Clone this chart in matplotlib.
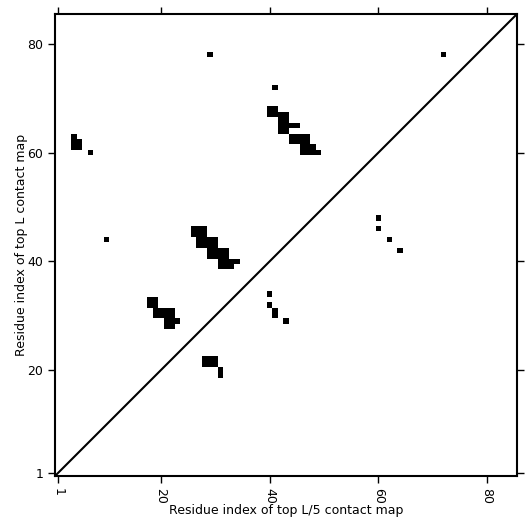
import numpy as np
import matplotlib
matplotlib.use("Agg")
import matplotlib.pyplot as plt

L = 85
tick_values = [1, 20, 40, 60, 80]

# Top L contacts (upper triangle): (column index, row index)
top_L_contacts = [
    (29, 78), (72, 78), (41, 72),
    (4, 63), (4, 62), (5, 62), (4, 61), (5, 61),
    (7, 60), (10, 44),
    # cluster near 40-49 / 60-68
    (40, 67), (41, 67), (40, 68), (41, 68),
    (42, 64), (43, 64), (42, 65), (43, 65), (42, 66), (43, 66), (42, 67), (43, 67),
    (44, 65), (45, 65),
    (44, 62), (45, 62), (46, 62), (47, 62), (44, 63), (45, 63), (46, 63), (47, 63),
    (46, 61), (47, 61), (48, 61),
    (46, 60), (47, 60), (48, 60), (49, 60),
    # cluster near 26-34 / 39-46
    (26, 45), (27, 45), (28, 45), (26, 46), (27, 46), (28, 46),
    (27, 43), (28, 43), (29, 43), (30, 43), (27, 44), (28, 44), (29, 44), (30, 44),
    (29, 41), (30, 41), (31, 41), (32, 41), (29, 42), (30, 42), (31, 42), (32, 42),
    (31, 39), (32, 39), (33, 39), (31, 40), (32, 40), (33, 40), (34, 40),
    # cluster near 18-23 / 28-33
    (18, 32), (19, 32), (18, 33), (19, 33),
    (19, 30), (20, 30), (21, 30), (22, 30), (19, 31), (20, 31), (21, 31), (22, 31),
    (21, 28), (22, 28), (21, 29), (22, 29), (23, 29),
]

# Top L/5 contacts (lower triangle): (column index, row index)
top_L5_contacts = [
    (60, 48), (60, 46), (62, 44), (64, 42),
    (40, 34), (40, 32), (41, 31), (41, 30), (43, 29),
    (28, 21), (29, 21), (30, 21), (28, 22), (29, 22), (30, 22),
    (31, 20), (31, 19),
]

mat = np.zeros((L, L))
for c, r in top_L_contacts + top_L5_contacts:
    mat[r - 1, c - 1] = 1

fig = plt.figure(figsize=(5.31, 5.31), dpi=100)
ax = fig.add_axes([0.1036, 0.1036, 0.870, 0.870])
ax.imshow(mat, cmap="binary", origin="lower", interpolation="nearest",
          extent=(0.5, L + 0.5, 0.5, L + 0.5), vmin=0, vmax=1, aspect="auto")
ax.plot([0.5, L + 0.5], [0.5, L + 0.5], color="black", linewidth=1.5)
ax.set_xlim(0.5, L + 0.5)
ax.set_ylim(0.5, L + 0.5)
ax.set_xticks(tick_values)
ax.set_yticks(tick_values)
ax.set_xticklabels([str(t) for t in tick_values], rotation=270)
ax.tick_params(direction="out", length=5, width=1, top=True, right=True,
               labeltop=False, labelright=False, labelsize=9)
for sp in ax.spines.values():
    sp.set_linewidth(1.5)
ax.set_xlabel("Residue index of top L/5 contact map", fontsize=9, labelpad=0)
ax.set_ylabel("Residue index of top L contact map", fontsize=9, labelpad=-0.5)
fig.savefig("out.png", dpi=100)
